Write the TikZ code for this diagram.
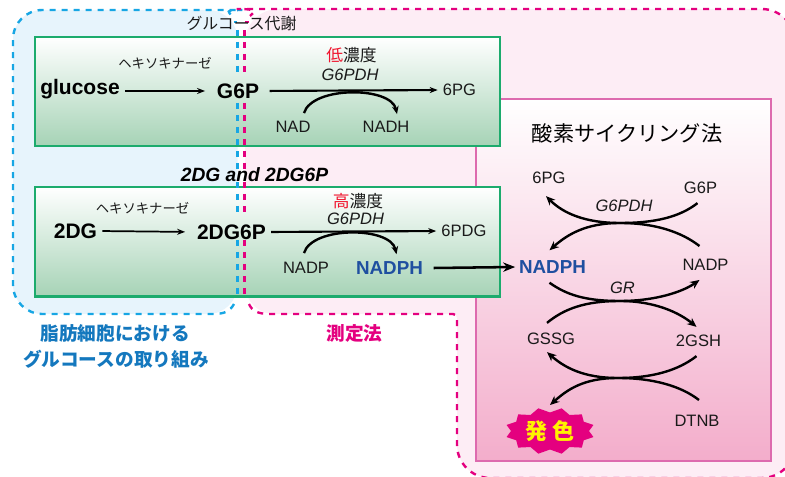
\documentclass[tikz,border=0pt]{standalone}
\usepackage{fontspec}
\setmainfont{Liberation Sans}
\newfontfamily\jp{Noto Sans CJK JP}
\usetikzlibrary{arrows.meta}

\definecolor{regionblue}{HTML}{E7F4FC}
\definecolor{regionpink}{HTML}{FDEDF5}
\definecolor{dashblue}{HTML}{17A6E4}
\definecolor{dashpink}{HTML}{E4007F}
\definecolor{boxgreen}{HTML}{1CAB6D}
\definecolor{boxbottom}{HTML}{A6D3B6}
\definecolor{cycleedge}{HTML}{DD6AAE}
\definecolor{cyclebottom}{HTML}{F3ADCB}
\definecolor{nadphblue}{HTML}{1F4FA0}
\definecolor{labelblue}{HTML}{1478BE}
\definecolor{lowred}{HTML}{F0142D}
\definecolor{inkgrey}{HTML}{1A1A1A}

\tikzset{
    lbl/.style={inner sep=0.75pt,text=inkgrey,font=\fontsize{12.4}{14}\selectfont},
    enzyme/.style={inner sep=0.75pt,text=inkgrey,font=\fontsize{12.4}{14}\selectfont\itshape},
    metab/.style={inner sep=0.75pt,text=black,font=\fontsize{15.75}{18}\selectfont\bfseries},
    nadphlbl/.style={inner sep=0.75pt,text=nadphblue,font=\fontsize{14.1}{16}\selectfont\bfseries},
    kana/.style={inner sep=0.75pt,text=inkgrey,font=\jp\fontsize{10}{12}\selectfont},
    conc/.style={inner sep=0.75pt,text=inkgrey,font=\jp\fontsize{12.6}{15}\selectfont},
    caption/.style={inner sep=0.75pt,font=\jp\fontsize{14}{17}\selectfont\bfseries},
    greenbox/.style={draw=boxgreen,line width=2.2pt,top color=white,bottom color=boxbottom},
    bluedash/.style={draw=dashblue,line width=1.8pt,dash pattern=on 4.5pt off 4.5pt},
    pinkdash/.style={draw=dashpink,line width=1.8pt,dash pattern=on 4.5pt off 4.5pt},
    thinarrow/.style={line width=1.3pt,-{Stealth[length=6pt,width=4.5pt]},shorten <=3pt,shorten >=8pt},
    mainarrow/.style={line width=1.6pt,-{Stealth[length=6pt,width=4.5pt]},shorten >=3pt},
    arcarrow/.style={line width=1.8pt,-{Stealth[length=6pt,width=5pt]}},
    cyclearrow/.style={line width=1.8pt,-{Stealth[length=7pt,width=6pt]}},
}

\begin{document}
\begin{tikzpicture}[x=0.75pt,y=0.75pt,yscale=-1,xscale=1]
    \useasboundingbox (0,0) rectangle (785,477);
    \clip (0,0) rectangle (785,477);

    %Region fills
    \fill [regionblue, rounded corners=22] (13,10) rectangle (237.5,314);
    \fill [regionpink, rounded corners=25] (245,100) -- (245,9) -- (795,9) -- (795,478) -- (457,478) [rounded corners=3] -- (457,314) [rounded corners=22] -- (245,314) -- cycle;

    %Cycle box
    \draw [draw=cycleedge, line width=2.2pt, top color=white, bottom color=cyclebottom] (476,99) rectangle (771,461);

    %Green boxes
    \draw [greenbox] (35,37) rectangle (500,146);
    \draw [greenbox] (35,187) rectangle (500,296.5);

    %Dashed outlines
    \draw [bluedash] (234,304) .. controls (230,311) and (225,314) .. (213,314) [rounded corners=22] -- (13,314) -- (13,10) -- (213,10) [sharp corners] .. controls (223,10) and (229,12) .. (232,16);
    \draw [pinkdash] (249,304) .. controls (252,311) and (258,314) .. (270,314) [rounded corners=3] -- (457,314) [rounded corners=25] -- (457,478) -- (795,478) -- (795,9) -- (270,9) [sharp corners] .. controls (260,9) and (254,12) .. (250,16);
    \foreach \ya/\yb in {30/76,103/169,182/217,240/296}{
        \draw [bluedash] (237.5,\ya) -- (237.5,\yb);
        \draw [pinkdash] (244.5,\ya) -- (244.5,\yb);
    }
    \draw [bluedash] (233.5,22) -- (236.5,22);
    \draw [pinkdash] (245,22) -- (249,22);

    % Text Node
    \draw (241.5,23) node (glumeta) [kana, font=\jp\fontsize{11.9}{14}\selectfont] {グルコース代謝};
    % Text Node
    \draw (254.5,175) node (dglabel) [metab, font=\fontsize{14.4}{16}\selectfont\bfseries\itshape] {2DG and 2DG6P};

    %Upper box
    \draw (80,89) node (glucose) [metab] {glucose};
    \draw (238,91) node (gsixp) [metab] {G6P};
    \draw (165,63) node (hkone) [kana] {ヘキソキナーゼ};
    \draw (459.5,90) node (pgone) [lbl] {6PG};
    \draw (351.5,55) node (lowconc) [conc] {\textcolor{lowred}{低}濃度};
    \draw (350,75) node (gpdone) [enzyme] {G6PDH};
    \draw (293,127) node (nad) [lbl] {NAD};
    \draw (386,127) node (nadh) [lbl] {NADH};
    \draw [thinarrow] (glucose.east |- gsixp.west) -- (gsixp.west);
    \draw [mainarrow, shorten <=7pt] (gsixp.east) -- (pgone.west);
    \draw [arcarrow] ([shift={(11,-7)}]nad.north) .. controls +(8,-27) and +(-6,-28) .. ([shift={(11,-6)}]nadh.north);

    %Lower box
    \draw (75.5,231) node (dg) [metab] {2DG};
    \draw (231.5,232) node (dgsixp) [metab] {2DG6P};
    \draw (142.5,208) node (hktwo) [kana] {ヘキソキナーゼ};
    \draw (464,231) node (pdg) [lbl] {6PDG};
    \draw (358,201) node (highconc) [conc] {\textcolor{lowred}{高}濃度};
    \draw (355.5,219) node (gpdtwo) [enzyme] {G6PDH};
    \draw (306,268) node (nadpin) [lbl] {NADP};
    \draw (389.5,268) node (nadphout) [nadphlbl] {NADPH};
    \draw [thinarrow] (dg.east) -- (dgsixp.west);
    \draw [mainarrow, shorten <=3pt] (dgsixp.east) -- (pdg.west);
    \draw [arcarrow] ([shift={(-2,-8)}]nadpin.north) .. controls +(8,-27) and +(-6,-28) .. ([shift={(7,-6)}]nadphout.north);

    %Cycle labels
    \draw (627,133) node (cycletitle) [inner sep=0.75pt, text=black, font=\jp\fontsize{15.9}{18}\selectfont] {酸素サイクリング法};
    \draw (552.5,267) node (nadphin) [nadphlbl] {NADPH};
    \draw (549,178) node (pgtwo) [lbl] {6PG};
    \draw (700.5,188) node (gsixptwo) [lbl] {G6P};
    \draw (624,206) node (gpdthree) [enzyme] {G6PDH};
    \draw (705.5,265) node (nadpout) [lbl] {NADP};
    \draw (622.5,288) node (grlabel) [enzyme] {GR};
    \draw (551,339) node (gssg) [lbl] {GSSG};
    \draw (698.5,341) node (gsh) [lbl] {2GSH};
    \draw (697,421) node (dtnb) [lbl] {DTNB};
    \draw [line width=1.9pt, -{Stealth[length=9pt,width=7pt]}] ([xshift=7pt]nadphout.east) -- ([xshift=-2pt]nadphin.west);

    %Crossing points
    \coordinate (crossa) at (620,223);
    \coordinate (crossb) at (620,301);
    \coordinate (crossc) at (618,378);

    %Cycle arrows
    \draw [cyclearrow] ([shift={(-3,8)}]gsixptwo.south) .. controls +(-18,14) and +(35,0) .. (crossa) .. controls +(-35,0) and +(17,17) .. ([shift={(-3,11)}]pgtwo.south);
    \draw [cyclearrow] ([shift={(-6,-12)}]nadpout.north) .. controls +(-18,-14) and +(35,0) .. (crossa) .. controls +(-35,0) and +(17,-15) .. ([shift={(-3,-9)}]nadphin.north);
    \draw [cyclearrow] ([shift={(-3,8)}]nadphin.south) .. controls +(17,12) and +(-35,0) .. (crossb) .. controls +(35,0) and +(-17,12) .. ([shift={(-6,8)}]nadpout.south);
    \draw [cyclearrow] ([shift={(-4,-9)}]gssg.north) .. controls +(17,-14) and +(-35,0) .. (crossb) .. controls +(35,0) and +(-17,-14) .. ([shift={(-2,-7)}]gsh.north);
    \draw [cyclearrow] ([shift={(-2,8)}]gsh.south) .. controls +(-18,14) and +(35,0) .. (crossc) .. controls +(-35,0) and +(17,15) .. ([shift={(-4,6)}]gssg.south);
    \draw [cyclearrow] ([shift={(2,-14)}]dtnb.north) .. controls +(-18,-14) and +(35,0) .. (crossc) .. controls +(-35,0) and +(17,-15) .. (550,405);

    %Burst
    \fill [dashpink] plot [variable=\i, samples at={0,...,23}] ({550+(mod(\i,2)==0?39:45)*cos(\i*15)},{431+(mod(\i,2)==0?18.5:23.5)*sin(\i*15)}) -- cycle;
    \draw (550,431) node (burstlabel) [inner sep=0.75pt, text=yellow, font=\jp\fontsize{16.5}{18}\selectfont\bfseries] {発\hspace{0.2em}色};

    %Captions
    \draw (115,333) node (capone) [caption, text=labelblue] {脂肪細胞における};
    \draw (116,359) node (captwo) [caption, text=labelblue] {グルコースの取り組み};
    \draw (354.5,333) node (capthree) [caption, text=dashpink] {測定法};

\end{tikzpicture}
\end{document}
